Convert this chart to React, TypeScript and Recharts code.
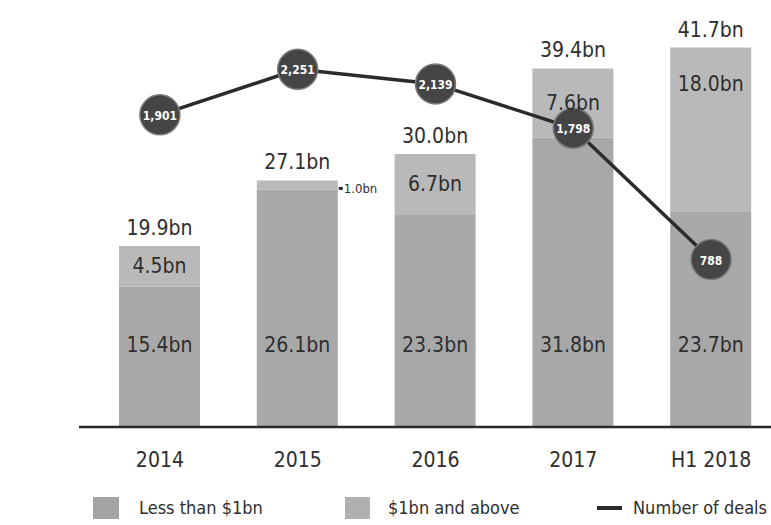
import React from 'react';
import { ComposedChart, Bar, Line, XAxis, YAxis, LabelList } from 'recharts';

const categories = ['2014', '2015', '2016', '2017', 'H1 2018'];
const lessThan1bn = [15.4, 26.1, 23.3, 31.8, 23.7];
const above1bn = [4.5, 1.0, 6.7, 7.6, 18.0];
const totals = [19.9, 27.1, 30.0, 39.4, 41.7];
const deals = [1901, 2251, 2139, 1798, 788];

const data = categories.map((c, i) => ({
  name: c,
  less: lessThan1bn[i],
  above: above1bn[i],
  total: totals[i],
  deals: deals[i],
}));

const FONT = '"DejaVu Sans Condensed", "Liberation Sans Narrow", "Open Sans", sans-serif';
const TEXT = '#2e2e2e';
const LOWER = '#a8a8a8';
const UPPER = '#b9b9b9';

const fmt = (v: number) => `${v.toFixed(1)}bn`;

const LowerLabel = (p: any) => {
  const { x, y, width, height, value } = p;
  return (
    <text x={x + width / 2} y={y + height - 82} textAnchor="middle" dominantBaseline="central"
      fontFamily={FONT} fontSize={21} fill={TEXT}>{fmt(value)}</text>
  );
};

const UpperLabel = (p: any) => {
  const { x, y, width, height, value } = p;
  if (height < 15) {
    return (
      <g>
        <rect x={x + width + 1} y={y + height / 2 + 2} width={4} height={3} fill={TEXT} />
        <text x={x + width + 6} y={y + height / 2 + 4} dominantBaseline="central"
          fontFamily={FONT} fontSize={13} fill={TEXT}>{fmt(value)}</text>
      </g>
    );
  }
  return (
    <text x={x + width / 2} y={y + Math.min(height / 2, 36)} textAnchor="middle" dominantBaseline="central"
      fontFamily={FONT} fontSize={21} fill={TEXT}>{fmt(value)}</text>
  );
};

const TotalLabel = (p: any) => {
  const { x, y, width, value } = p;
  return (
    <text x={x + width / 2} y={y - 18} textAnchor="middle" dominantBaseline="central"
      fontFamily={FONT} fontSize={21} fill={TEXT}>{fmt(value)}</text>
  );
};

const DealDot = (p: any) => {
  const { cx, cy, payload, index } = p;
  if (cx == null || cy == null) return null;
  return (
    <g key={`dot-${index}`}>
      <circle cx={cx} cy={cy} r={20} fill="#454545" stroke="#7a7a7a" strokeWidth={1.5} />
      <text x={cx} y={cy + 1} textAnchor="middle" dominantBaseline="central"
        fontFamily={FONT} fontWeight="bold" fontSize={12} fill="#ffffff">
        {payload.deals.toLocaleString('en-US')}
      </text>
    </g>
  );
};

const Tick = (p: any) => {
  const { x, payload } = p;
  return (
    <text x={x} y={460} textAnchor="middle" dominantBaseline="central"
      fontFamily={FONT} fontSize={21} fill={TEXT}>{payload.value}</text>
  );
};

const legendText: React.CSSProperties = {
  position: 'absolute', fontFamily: FONT, fontSize: 18, color: TEXT, lineHeight: '22px', top: 497, whiteSpace: 'nowrap',
};

export default function App() {
  return (
    <div style={{ position: 'relative', width: 790, height: 525 }}>
      <style>{'html,body{margin:0;padding:0;overflow:hidden;background:#fff;}'}</style>
      <ComposedChart width={790} height={525} data={data}
        margin={{ top: 17.5, right: 0, bottom: 68, left: 79 }}>
        <XAxis dataKey="name" axisLine={{ stroke: '#2a2a2a', strokeWidth: 2.5 }} tickLine={false}
          tick={<Tick />} padding={{ left: 12, right: 10 }} interval={0} height={30} />
        <YAxis yAxisId="bn" hide domain={[0, 45]} />
        <YAxis yAxisId="deals" orientation="right" hide domain={[-500, 2650]} />
        <Bar yAxisId="bn" dataKey="less" stackId="a" fill={LOWER} barSize={81} isAnimationActive={false}>
          <LabelList dataKey="less" content={<LowerLabel />} />
        </Bar>
        <Bar yAxisId="bn" dataKey="above" stackId="a" fill={UPPER} barSize={81} isAnimationActive={false}>
          <LabelList dataKey="above" content={<UpperLabel />} />
          <LabelList dataKey="total" content={<TotalLabel />} />
        </Bar>
        <Line yAxisId="deals" dataKey="deals" type="linear" stroke="#2b2b2b" strokeWidth={3.5}
          dot={<DealDot />} activeDot={false} isAnimationActive={false} />
      </ComposedChart>
      <div style={{ position: 'absolute', left: 93, top: 497, width: 26, height: 22, background: '#a3a3a3' }} />
      <div style={{ ...legendText, left: 139 }}>Less than $1bn</div>
      <div style={{ position: 'absolute', left: 345, top: 497, width: 25, height: 22, background: '#b0b0b0' }} />
      <div style={{ ...legendText, left: 388 }}>$1bn and above</div>
      <div style={{ position: 'absolute', left: 597, top: 506, width: 25, height: 4, background: '#2b2b2b' }} />
      <div style={{ ...legendText, left: 633 }}>Number of deals</div>
    </div>
  );
}
